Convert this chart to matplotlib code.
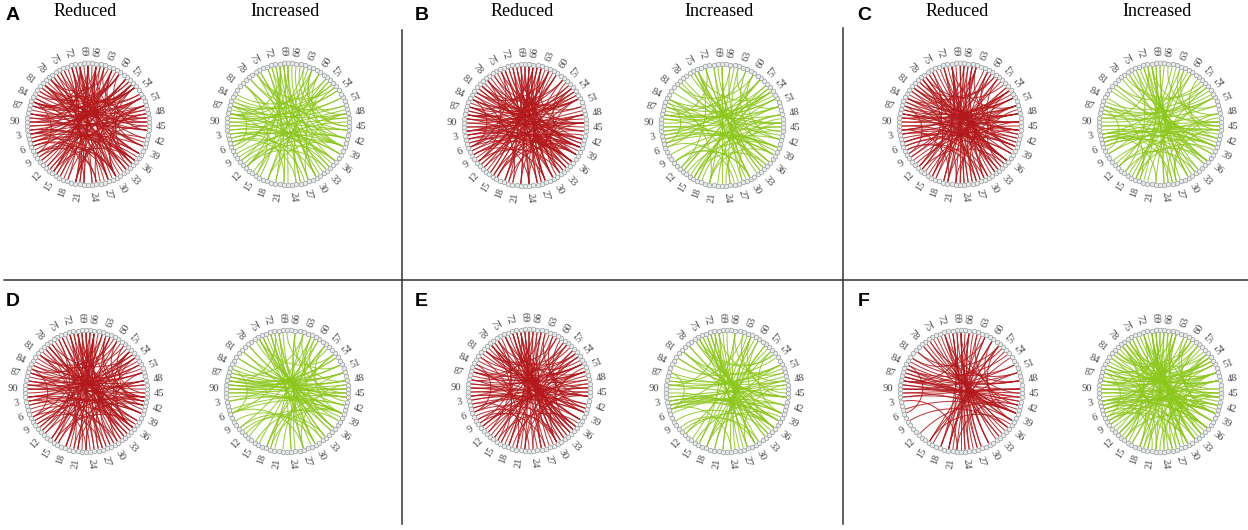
import numpy as np
import matplotlib.pyplot as plt
from matplotlib.collections import LineCollection

# === edges per circle (node pairs, nodes numbered 1..90) ===
A_reduced = [(1,52),(2,55),(3,38),(4,56),(5,36),(6,40),(7,58),(8,42),(88,52),(89,38),(90,55),(87,50),
             (86,36),(85,52),(84,47),(83,48),(82,53),(81,49),(2,34),(4,37),(89,56),(86,57),
             (66,30),(67,33),(68,15),(69,36),(70,32),(71,38),(72,18),(73,20),(74,40),(75,21),(76,22),
             (65,31),(64,28),(70,35),(72,14),(68,16),(66,29),
             (78,28),(79,44),(80,46),(77,38),(81,30),
             (10,62),(12,66),(14,68),(16,56),(11,64),(13,48),(18,52),(9,61),
             (5,30),(8,25),(3,70),(85,60),(84,28),(20,50),(25,55),(35,62),(40,70),(45,75),(50,15),
             (55,80),(60,88),(62,5),(33,88),(36,2),(38,72),(42,68),(46,66),(48,20),(52,12),(57,85),
             (58,3),(63,78),(27,80),(24,80),(44,60),(47,64),(50,70),(53,76),(6,25),(9,30),(86,70),
             (83,66),(30,52),(34,56),
             (1,46),(3,47),(5,49),(88,44),(90,44),(85,41),(70,24),(68,22),(66,21),(72,28),(74,30),
             (62,17),(58,13),(77,33),(80,35),(10,56),(14,58),(20,66),(26,71),(33,78),
             (3,22),(6,28),(85,8),(82,60),(78,55),(90,68),(40,62),(45,20),(50,30),(36,14),(30,8),
             (60,80),(65,85),(55,35)]
A_increased = [(68,30),(68,34),(69,38),(70,30),(67,36),(71,16),(69,32),(72,20),(66,40),(70,12),(73,22),(68,10),
               (1,52),(89,54),(2,38),(88,50),(3,36),(87,52),(90,56),(4,40),(86,48),(5,42),
               (85,56),(84,54),(83,58),(86,60),(88,62),
               (8,44),(10,42),(12,40),(14,48),(9,46),(11,36),
               (42,62),(45,65),(48,64),(40,60),(44,72),(47,76),(50,78),
               (75,40),(78,42),(80,28),(76,26),(20,58),(25,62),(18,55),(30,57),(33,86),(36,88),
               (6,64),(7,70),(15,80),(22,88),(27,3),(30,5),(38,1),(34,90),
               (2,47),(89,44),(69,23),(71,26),(75,31),(60,15),(80,35),(12,57),(18,63),(28,73),
               (85,40),(4,49),(5,25),(86,6),(70,88),(48,28),(40,18),(55,76),(62,45),(33,12)]
B_reduced = [(1,36),(2,38),(3,54),(4,36),(5,40),(6,34),(7,42),(89,52),(90,38),(88,55),(87,46),(86,55),
             (85,50),(84,52),(83,46),(82,52),(81,40),(3,40),(8,46),(90,53),(2,54),(88,36),
             (66,30),(67,32),(68,36),(69,18),(70,34),(71,19),(72,36),(73,38),(74,24),(75,34),(65,28),
             (64,30),(69,40),(67,26),(71,40),
             (78,40),(80,44),(76,38),(79,30),(82,42),(77,41),
             (10,62),(12,64),(14,66),(16,54),(18,55),(9,60),(11,48),(13,65),
             (20,48),(22,52),(24,58),(26,62),(28,64),(30,68),(32,70),(34,86),(36,3),(38,8),(40,12),
             (43,16),(46,70),(50,74),(53,78),(56,84),(58,88),(60,2),(62,6),(65,10),(68,14),(74,6),
             (78,10),(83,20),(86,26),(89,30),(2,33),(5,36),(7,62),(15,44),(19,40),(27,48),(31,55),
             (35,66),(41,72),(47,80),
             (1,46),(2,48),(4,49),(89,45),(87,42),(84,39),(67,22),(69,24),(71,27),(73,28),(63,18),
             (60,15),(78,33),(81,36),(11,56),(15,61),(22,67),(28,73),(35,80),(44,88),
             (4,24),(8,28),(84,6),(80,58),(76,52),(88,66),(42,64),(46,24),(52,32),(38,16),(32,10),
             (62,82),(66,86),(57,38)]
B_increased = [(89,52),(90,54),(1,38),(87,50),(88,52),(2,40),(86,48),(3,38),(85,53),(4,40),
               (16,45),(16,52),(17,56),(15,50),(18,48),(14,40),(16,35),(17,54),
               (70,32),(68,30),(72,34),(66,33),(74,36),(69,36),
               (58,84),(56,88),(60,80),(55,2),(54,4),(62,86),
               (45,8),(42,10),(40,5),(48,12),(44,20),(47,24),
               (75,40),(78,42),(80,44),(82,46),(76,46),(22,55),(25,60),(28,64),(30,68),(33,72),
               (36,74),(38,62),(10,30),(12,74),(6,66),(84,20),(86,27),(89,35),(3,58),(50,64),
               (1,46),(88,43),(70,25),(68,23),(74,29),(58,13),(79,34),(13,58),(20,65),(30,75),
               (84,39),(5,50),(6,26),(85,5),(72,88),(46,28),(38,20),(54,74),(60,42),(30,10)]
C_reduced = [(1,36),(2,54),(3,40),(4,38),(5,42),(6,40),(89,53),(90,54),(88,50),(87,52),(86,50),(85,48),
             (84,52),(83,46),(82,44),(81,48),(2,38),(5,44),(89,40),(87,36),
             (68,23),(69,24),(67,32),(70,30),(66,28),(71,36),(72,19),(73,36),(65,33),(74,36),(68,31),(70,17),
             (77,36),(79,44),(80,46),(78,40),(76,40),(81,42),
             (10,48),(12,62),(14,50),(15,52),(9,64),(17,54),(13,66),
             (20,46),(23,50),(26,55),(29,60),(32,65),(35,72),(38,76),(41,80),(44,84),(48,88),(52,2),
             (55,16),(58,20),(61,24),(64,26),(75,12),(78,16),(82,22),(85,28),(88,33),(3,30),(6,36),
             (8,60),(11,45),(19,70),(27,78),(34,84),(39,58),(43,64),(50,70),
             (1,46),(3,48),(5,50),(88,43),(90,46),(86,41),(70,25),(67,22),(65,20),(72,27),(75,30),
             (61,16),(57,12),(78,33),(81,36),(9,54),(13,58),(19,64),(25,70),(32,77),
             (2,20),(7,27),(86,8),(81,59),(77,56),(89,67),(39,61),(44,22),(49,29),(35,13),(29,7),
             (59,79),(64,84),(54,34)]
C_increased = [(4,42),(4,45),(5,38),(5,44),(3,40),(6,40),(6,35),(4,30),(5,33),(3,26),(2,36),(1,40),
               (90,52),(89,50),(88,54),(87,53),(86,52),
               (70,32),(71,36),(69,19),(72,35),(68,28),(73,38),(70,30),(67,17),
               (78,40),(80,46),(76,45),(82,42),(45,62),(48,66),(42,58),(50,70),
               (20,55),(22,60),(24,64),(18,52),(25,48),(27,44),
               (12,40),(14,36),(10,44),(8,46),(15,52),(30,68),(33,70),(36,74),(40,75),(55,85),
               (57,80),(60,3),(63,8),(65,12),(74,14),(84,25),(86,18),
               (1,46),(88,43),(69,24),(71,26),(76,31),(61,16),(81,36),(11,56),(17,62),(27,72),
               (86,41),(3,48),(4,22),(87,7),(71,89),(47,27),(39,17),(56,77),(63,44),(32,12)]
D_reduced = [(68,30),(69,32),(70,34),(67,18),(71,36),(66,28),(72,38),(68,33),(69,19),(70,31),(73,36),
             (67,35),(65,26),(71,18),(74,36),(68,37),(69,40),(70,43),(66,44),(72,15),
             (1,52),(3,40),(5,42),(89,52),(88,54),(87,50),(86,55),(85,50),(90,54),(2,38),(4,40),
             (84,48),(83,51),
             (43,60),(44,63),(42,56),(45,58),(43,8),(44,12),(42,16),
             (10,62),(12,66),(14,64),(16,54),(18,56),(9,48),
             (76,36),(78,40),(80,44),(82,46),(77,25),(20,48),(23,52),(26,56),(29,62),(32,66),(35,74),
             (38,78),(40,78),(47,86),(50,90),(53,2),(57,8),(60,84),(62,3),(64,10),(75,14),(79,20),
             (81,24),(86,28),(89,34),(2,30),(6,36),(7,66),(11,70),(22,75),(33,70),(36,54),
             (2,47),(4,48),(88,44),(90,45),(86,42),(68,23),(70,25),(66,21),(72,27),(74,29),(63,18),
             (59,14),(78,33),(81,36),(11,56),(15,60),(21,66),(27,72),(34,79),(43,88),
             (3,23),(7,27),(85,7),(81,58),(77,55),(89,67),(41,63),(44,21),(50,31),(37,15),(31,9),
             (61,81),(64,85),(56,36)]
D_increased = [(88,50),(89,52),(90,54),(87,48),(86,50),(88,54),(89,48),(1,39),(2,40),(85,48),(87,52),
               (90,40),(3,42),(84,50),
               (72,35),(73,36),(74,38),(72,33),(75,40),(71,32),(70,36),(69,30),
               (78,40),(80,44),(76,42),(82,46),(60,10),(58,18),(62,6),(55,18),(57,3),(64,86),
               (20,50),(22,55),(25,60),(18,45),(15,40),(12,38),(10,33),(8,30),(6,42),(5,44),
               (30,66),(33,70),(36,74),(40,78),(44,82),(48,64),(52,68),(27,66),(24,62),(36,62),
               (40,58),(45,66),
               (1,46),(89,44),(88,46),(90,47),(87,45),(72,27),(70,24),(75,30),(61,16),(80,35),
               (13,58),(19,64),(29,74),(6,27),(85,6),(71,88),(47,27),(40,19),(55,75),(61,43),(32,11)]
E_reduced = [(68,30),(69,32),(70,34),(67,31),(71,35),(66,33),(72,36),(69,35),(68,18),(70,30),(73,38),
             (65,26),(71,34),(67,18),(74,36),
             (90,54),(1,38),(2,40),(3,42),(89,52),(88,50),(87,52),(86,50),(85,52),(4,40),(5,44),
             (84,48),(83,52),(2,36),(90,41),
             (77,38),(79,42),(80,44),(78,40),(76,40),(81,44),
             (10,48),(12,50),(14,52),(16,54),(18,56),(11,49),(8,46),
             (20,50),(22,54),(24,47),(26,58),(28,64),(30,70),(32,72),(34,72),(36,74),(38,78),
             (40,60),(44,64),(46,70),(50,74),(53,78),(55,82),(57,86),(59,2),(61,6),(63,10),
             (75,12),(78,16),(82,20),(85,25),(88,30),(6,34),(7,30),(9,70),(15,76),(19,44),
             (1,46),(3,47),(5,50),(89,44),(90,45),(86,41),(69,24),(68,22),(66,21),(72,27),(74,29),
             (62,17),(58,13),(77,32),(80,35),(10,55),(14,59),(20,65),(26,71),(33,78),
             (4,23),(8,27),(84,6),(80,58),(76,55),(88,67),(41,62),(45,22),(51,30),(37,15),(31,9),
             (61,80),(65,86),(56,35)]
E_increased = [(4,40),(5,42),(3,38),(6,44),(4,36),(5,38),(3,40),(2,38),(1,36),(90,52),(89,52),(88,50),
               (87,51),(86,48),
               (72,34),(73,36),(74,38),(75,40),(72,36),(71,33),(70,31),(69,30),
               (78,38),(80,44),(76,42),(82,44),(60,22),(58,20),(56,18),(62,4),(64,88),(54,84),
               (20,52),(22,58),(25,62),(18,48),(15,42),(12,36),(10,30),(8,34),(30,68),(33,72),
               (36,74),(40,78),(44,82),(48,66),(50,70),(27,66),(24,62),(36,60),(40,56),(45,64),
               (52,80),(55,76),(14,66),(16,70),
               (2,47),(4,48),(3,46),(5,49),(89,44),(73,28),(71,26),(75,30),(61,16),(80,35),
               (12,57),(18,63),(28,73),(5,24),(86,5),(71,89),(47,28),(39,18),(55,75),(62,44),(31,11)]
F_reduced = [(88,43),(89,44),(90,45),(87,42),(86,41),(88,50),(89,40),(86,48),(90,52),(87,40),(85,48),
             (1,38),(2,40),(84,46),(83,48),
             (68,30),(69,32),(70,20),(67,26),(71,34),(66,27),(72,36),(68,28),(69,18),(73,36),(65,30),
             (76,38),(78,40),(80,44),(75,38),(77,40),(60,20),(58,18),(62,22),(56,20),(64,24),(54,16),
             (45,68),(48,72),(50,76),(42,64),(40,60),(38,58),(35,74),(33,72),(30,68),(52,82),
             (55,85),(57,88),(20,58),(25,62),(28,66),(5,40),(8,36),(12,42),(15,50),
             (1,46),(2,46),(85,40),(87,43),(90,46),(68,23),(70,24),(66,21),(72,27),(63,18),(78,33),
             (15,60),(25,70),(3,22),(84,6),(80,58),(88,66),(44,22),(37,15),(62,82)]
F_increased = [(1,38),(2,40),(3,42),(4,40),(5,42),(6,44),(89,52),(90,54),(88,50),(87,52),(86,50),
               (85,53),(84,48),(83,48),(7,44),(8,40),(82,45),(3,36),(90,40),(86,53),
               (68,30),(69,32),(70,34),(67,30),(71,35),(66,28),(72,36),(73,38),(65,32),(74,36),
               (69,34),(70,18),
               (4,36),(5,32),(6,30),(4,60),(5,64),
               (76,38),(78,40),(80,44),(77,40),(79,42),(10,48),(12,50),(14,52),(16,54),(18,55),
               (20,50),(22,54),(24,48),(26,58),(28,64),(30,70),(32,70),(34,72),(36,74),(38,76),
               (40,62),(44,66),(46,72),(50,76),(53,80),(56,84),(58,88),(60,3),(62,8),(64,12),
               (75,14),(78,18),(82,22),(85,26),(88,30),(9,68),(11,72),(15,78),(19,42),(27,44),
               (1,46),(3,48),(5,50),(88,43),(90,45),(86,41),(69,24),(67,22),(65,20),(72,27),(75,30),
               (61,16),(57,12),(78,33),(81,36),(9,54),(13,58),(19,64),(25,70),(32,77),
               (3,21),(7,26),(86,7),(81,59),(77,55),(89,67),(40,61),(45,23),(50,29),(36,14),(30,8),
               (60,80),(65,85),(55,34)]

panel_letters = ["A", "B", "C", "D", "E", "F"]
panel_edges = [(A_reduced, A_increased), (B_reduced, B_increased), (C_reduced, C_increased),
               (D_reduced, D_increased), (E_reduced, E_increased), (F_reduced, F_increased)]
n_nodes = 90
tick_nodes = list(range(3, 91, 3))

# layout in pixel coordinates
centers = [((88, 124), (288, 124)), ((525, 125), (722, 125)), ((960, 124), (1160, 124)),
           ((86, 391), (287, 391)), ((529, 390), (727, 391)), ((961, 391), (1160, 391))]
letter_pos = [(13, 16), (422, 15), (864, 15), (13, 302), (421, 302), (864, 302)]
RED = "#b3191c"
GREEN = "#8cc71c"
R_node = 61


def node_angle(k):
    return np.deg2rad(180 + (k - 0.5) * 360 / n_nodes)


def chord(a, b, n=40):
    # arc of the circle orthogonal to the unit circle through both nodes
    p1 = np.exp(1j * a)
    p2 = np.exp(1j * b)
    d = np.angle(p2 / p1)
    if abs(abs(d) - np.pi) < 0.05:
        t = np.linspace(0, 1, n)
        z = p1 + (p2 - p1) * t
    else:
        c = (p1 + p2) / (1 + np.cos(d))
        f1 = np.angle(p1 - c)
        f2 = np.angle(p2 - c)
        df = np.angle(np.exp(1j * (f2 - f1)))
        r = abs(p1 - c)
        z = c + r * np.exp(1j * (f1 + df * np.linspace(0, 1, n)))
    return z


def draw_circle(ax, cx, cy, edges, color):
    segs = []
    for i, j in edges:
        z = chord(node_angle(i), node_angle(j)) * (R_node - 2)
        segs.append(np.column_stack([cx + z.real, cy - z.imag]))
    ax.add_collection(LineCollection(segs, colors=color, linewidths=0.75, alpha=0.85, zorder=2))

    th = node_angle(np.arange(1, n_nodes + 1))
    ax.plot(cx + R_node * np.cos(th), cy - R_node * np.sin(th), 'o', ms=3.3,
            mfc="#e6eced", mec="#9a9a9a", mew=0.5, zorder=3)

    for k in tick_nodes:
        t = node_angle(k)
        deg = np.rad2deg(t) % 360
        x = cx + 68 * np.cos(t)
        y = cy - 68 * np.sin(t)
        if 90 < deg < 270:
            rot, ha = deg - 180, "right"
        else:
            rot, ha = (deg + 180) % 360 - 180, "left"
        ax.text(x, y, str(k), rotation=rot, ha=ha, va="center", rotation_mode="anchor",
                fontsize=7.5, family="Liberation Serif", color="#444444")


fig = plt.figure(figsize=(12.48, 5.30), dpi=100)
ax = fig.add_axes([0, 0, 1, 1])
ax.set_xlim(0, 1248)
ax.set_ylim(530, 0)
ax.axis("off")

for p in range(6):
    (red_c, green_c) = centers[p]
    draw_circle(ax, red_c[0], red_c[1], panel_edges[p][0], RED)
    draw_circle(ax, green_c[0], green_c[1], panel_edges[p][1], GREEN)
    ax.text(letter_pos[p][0], letter_pos[p][1], panel_letters[p], ha="center", va="center",
            fontsize=14, fontweight="bold", family="Liberation Sans")
    if p < 3:
        ax.text(red_c[0] - 3, 12, "Reduced", ha="center", va="center", fontsize=13, family="Liberation Serif")
        ax.text(green_c[0] - 3, 12, "Increased", ha="center", va="center", fontsize=13, family="Liberation Serif")

# panel dividers
ax.plot([4, 1248], [279.5, 279.5], color="#333333", lw=1.1)
ax.plot([402, 402], [30, 524], color="#333333", lw=1.1)
ax.plot([843, 843], [28, 524], color="#333333", lw=1.1)

fig.savefig("out.png", dpi=100)
